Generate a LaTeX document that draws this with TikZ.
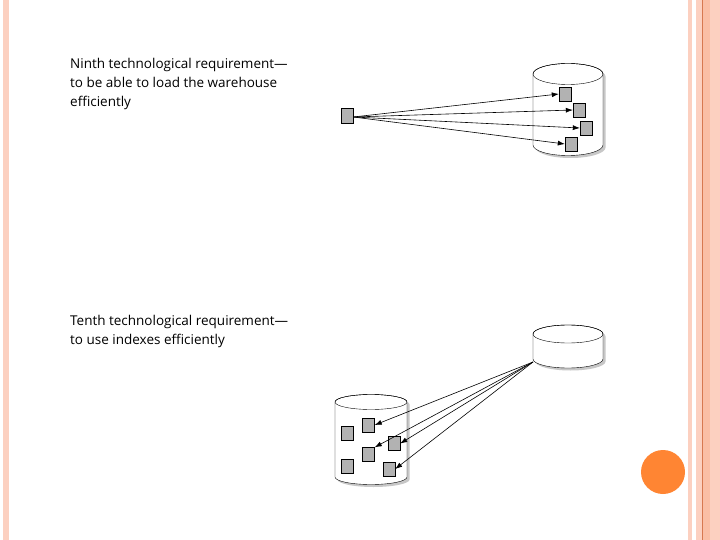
\documentclass[tikz,border=0pt]{standalone}
\usepackage{fontspec}
\setmainfont{Open Sans}
\usetikzlibrary{arrows.meta}

\definecolor{stripelight}{RGB}{252,208,192}
\definecolor{stripemid}{RGB}{250,190,165}
\definecolor{stripedark}{RGB}{215,120,80}
\definecolor{dotorange}{RGB}{255,133,51}

\begin{document}
\begin{tikzpicture}[x=1pt,y=-1pt,
  block/.style={draw, fill=black!30, minimum width=12pt, minimum height=14pt, inner sep=0pt},
  feed/.style={-{Latex[length=7pt,width=5pt]}, line width=0.6pt},
  caption/.style={anchor=base west, align=left, inner sep=0pt, font=\fontsize{13.5}{19}\selectfont}]

% page and borders
\fill[white] (0,0) rectangle (720,540);
\useasboundingbox (0,0) rectangle (720,540);
\fill[stripelight] (3,0) rectangle (9,540);
\fill[stripelight] (688,0) rectangle (692,540);
\fill[stripelight] (696,0) rectangle (702,540);
\fill[stripedark] (702,0) rectangle (703.2,540);
\fill[stripemid] (703.2,0) rectangle (710,540);
\fill[stripelight] (710,0) rectangle (720,540);
\fill[dotorange] (663,472) circle [radius=22];

% cylinder: centre x, top y, x radius, y radius, height
\def\cyl(#1,#2,#3,#4,#5){
  \fill[black!22, shift={(2.5,2.5)}] (#1-#3,#2) -- (#1-#3,#2+#5) arc [start angle=180, end angle=0, x radius=#3, y radius=#4] -- (#1+#3,#2) arc [start angle=0, end angle=-180, x radius=#3, y radius=#4] -- cycle;
  \draw[fill=white] (#1-#3,#2) -- (#1-#3,#2+#5) arc [start angle=180, end angle=0, x radius=#3, y radius=#4] -- (#1+#3,#2) arc [start angle=0, end angle=-180, x radius=#3, y radius=#4] -- cycle;
  \draw (#1,#2) ellipse [x radius=#3, y radius=#4];
}

% ninth requirement (base = last line)
\node[caption] (ninth) at (70,107) {Ninth technological requirement—\\to be able to load the warehouse\\efficiently};

\cyl(568,74,35,10.5,71)

\node[block, minimum height=15pt] (src) at (347,116) {};
\node[block] (w1) at (565,94) {};
\node[block] (w2) at (579,110) {};
\node[block] (w3) at (586,128) {};
\node[block] (w4) at (571,144) {};

\foreach \t in {w1,w2,w3,w4}
  \draw[feed] ([yshift=-1pt]src.east) -- (\t.west);

% tenth requirement
\node[caption] (tenth) at (70,344) {Tenth technological requirement—\\to use indexes efficiently};

\cyl(568,334,35,9,25)
\cyl(371,402,36,7.5,75)

\coordinate (hub) at (533,362);

\node[block] (a) at (347,433) {};
\node[block] (b) at (368.5,425) {};
\node[block] (c) at (394,443.5) {};
\node[block] (d) at (368.5,454.5) {};
\node[block] (e) at (347,466) {};
\node[block] (f) at (389,469) {};

\draw[feed] (hub) -- (b.east);
\draw[feed] (hub) -- (d.north east);
\draw[feed] (hub) -- (c.east);
\draw[feed] (hub) -- (f.east);

\end{tikzpicture}
\end{document}
